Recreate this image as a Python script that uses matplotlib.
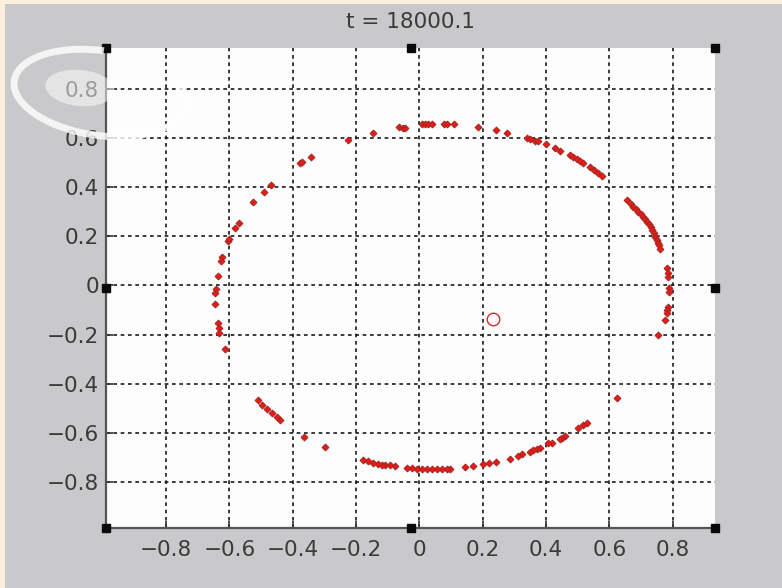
import matplotlib
matplotlib.use("Agg")
import matplotlib.pyplot as plt
from matplotlib.patches import Rectangle, Arc, Ellipse

# ---- data ----
px = [-0.624, -0.627, -0.603, -0.600, -0.582, -0.569, -0.526, -0.491, -0.469,
      -0.377, -0.370, -0.341, -0.224, -0.147, -0.063, -0.052, -0.046,
      0.008, 0.018, 0.028, 0.039, 0.078, 0.088, 0.110, 0.184, 0.242, 0.276,
      0.339, 0.350, 0.365, 0.376, 0.400, 0.429, 0.444, 0.476, 0.486, 0.497,
      0.508, 0.518, 0.539, 0.552, 0.564, 0.576,
      0.657, 0.668, 0.676, 0.684, 0.692, 0.700, 0.708, 0.714, 0.720, 0.726,
      0.731, 0.736, 0.741, 0.746, 0.750, 0.754, 0.757, 0.760,
      0.781, 0.785, 0.786, 0.790, 0.789, 0.786, 0.782, 0.781, 0.777, 0.755,
      0.623, 0.529, 0.518, 0.502, 0.460, 0.450, 0.444, 0.418, 0.407, 0.381,
      0.371, 0.360, 0.350, 0.323, 0.313, 0.286, 0.242, 0.221, 0.202, 0.171,
      0.144, 0.097, 0.087, 0.071, 0.055, 0.039, 0.023, 0.008, -0.008, -0.024,
      -0.040, -0.077, -0.093, -0.108, -0.119, -0.130, -0.145, -0.161, -0.177,
      -0.297, -0.363, -0.439, -0.450, -0.466, -0.482, -0.498, -0.511,
      -0.613, -0.632, -0.634, -0.635, -0.645, -0.645, -0.644, -0.635]
py = [0.115, 0.100, 0.182, 0.188, 0.233, 0.256, 0.341, 0.382, 0.411,
      0.500, 0.502, 0.525, 0.593, 0.620, 0.644, 0.643, 0.643,
      0.658, 0.658, 0.658, 0.658, 0.657, 0.657, 0.657, 0.644, 0.632, 0.621,
      0.600, 0.597, 0.590, 0.587, 0.575, 0.559, 0.549, 0.530, 0.522, 0.514,
      0.508, 0.500, 0.481, 0.470, 0.459, 0.446,
      0.348, 0.334, 0.321, 0.311, 0.301, 0.290, 0.280, 0.270, 0.260, 0.250,
      0.240, 0.226, 0.213, 0.199, 0.185, 0.175, 0.165, 0.147,
      0.070, 0.050, 0.036, -0.011, -0.025, -0.086, -0.100, -0.113, -0.141, -0.200,
      -0.457, -0.561, -0.568, -0.582, -0.612, -0.620, -0.625, -0.640, -0.643, -0.661,
      -0.665, -0.670, -0.678, -0.688, -0.693, -0.708, -0.719, -0.724, -0.728, -0.734,
      -0.741, -0.749, -0.749, -0.749, -0.749, -0.749, -0.749, -0.749, -0.747, -0.745,
      -0.742, -0.735, -0.732, -0.731, -0.730, -0.726, -0.722, -0.716, -0.711,
      -0.657, -0.617, -0.548, -0.537, -0.521, -0.504, -0.487, -0.468,
      -0.259, -0.192, -0.174, -0.154, -0.074, -0.029, -0.016, 0.040]
center_x = [0.234]
center_y = [-0.138]
title_text = "t = 18000.1"
ticks = [-0.8, -0.6, -0.4, -0.2, 0.0, 0.2, 0.4, 0.6, 0.8]
tick_labels = ["\u22120.8", "\u22120.6", "\u22120.4", "\u22120.2", "0",
               "0.2", "0.4", "0.6", "0.8"]
xlim = (-0.990, 0.934)
ylim = (-0.987, 0.969)

W, H = 782, 588
fig = plt.figure(figsize=(W / 100, H / 100), dpi=100)
fig.patch.set_facecolor("#fbeedb")
# gray figure panel
fig.patches.append(Rectangle((5 / W, 0), 1, 1 - 4 / H, transform=fig.transFigure,
                             facecolor="#c9c9cc", edgecolor="none", zorder=-10))

ax = fig.add_axes([106 / W, 1 - 527.7 / H, 609 / W, 480 / H])
ax.set_zorder(1)
ax.set_facecolor("#fdfdfd")
ax.set_xlim(*xlim)
ax.set_ylim(*ylim)

ax.set_xticks(ticks)
ax.set_xticklabels(tick_labels)
ax.set_yticks(ticks)
ax.set_yticklabels(tick_labels)
ax.tick_params(direction="in", length=5, width=1.2, color="#333333",
               labelsize=15.5, labelcolor="#3a3a3a")
ax.tick_params(axis="x", pad=9)
ax.tick_params(axis="y", pad=5)

ax.grid(True, color="#1a1a1a", linestyle=(0, (2.2, 2.2)), linewidth=1.2)
ax.set_axisbelow(True)
for s in ("top", "right"):
    ax.spines[s].set_visible(False)
for s in ("left", "bottom"):
    ax.spines[s].set_color("#555555")
    ax.spines[s].set_linewidth(1.6)

ax.plot(px, py, linestyle="none", marker="D", markersize=3.5,
        markerfacecolor="#ea1a10", markeredgecolor="#a02828",
        markeredgewidth=0.7, zorder=3)
ax.plot(center_x, center_y, linestyle="none", marker="o", markersize=9,
        markerfacecolor="none", markeredgecolor="#d42a2a",
        markeredgewidth=1.0, zorder=3)

ax.set_title(title_text, fontsize=15.5, color="#3a3a3a", pad=14)

# selection handles at corners/midpoints of the axes
hx = [0, 0.5, 1, 0, 1, 0, 0.5, 1]
hy = [0, 0, 0, 0.5, 0.5, 1, 1, 1]
ax.plot(hx, hy, linestyle="none", marker="s", markersize=6, color="#0a0a0a",
        transform=ax.transAxes, clip_on=False, zorder=5)

# faint watermark swirl in the top-left corner
fig.patches.append(Arc((100 / W, 1 - 93 / H), 175 / W, 84 / H, angle=-14,
                       theta1=100, theta2=385, transform=fig.transFigure,
                       color="white", lw=5, alpha=0.8, zorder=10))
fig.patches.append(Ellipse((80 / W, 1 - 88 / H), 70 / W, 36 / H, angle=-10,
                           transform=fig.transFigure, facecolor="white",
                           edgecolor="none", alpha=0.5, zorder=10))

fig.savefig("out.png", dpi=100, facecolor=fig.get_facecolor())
